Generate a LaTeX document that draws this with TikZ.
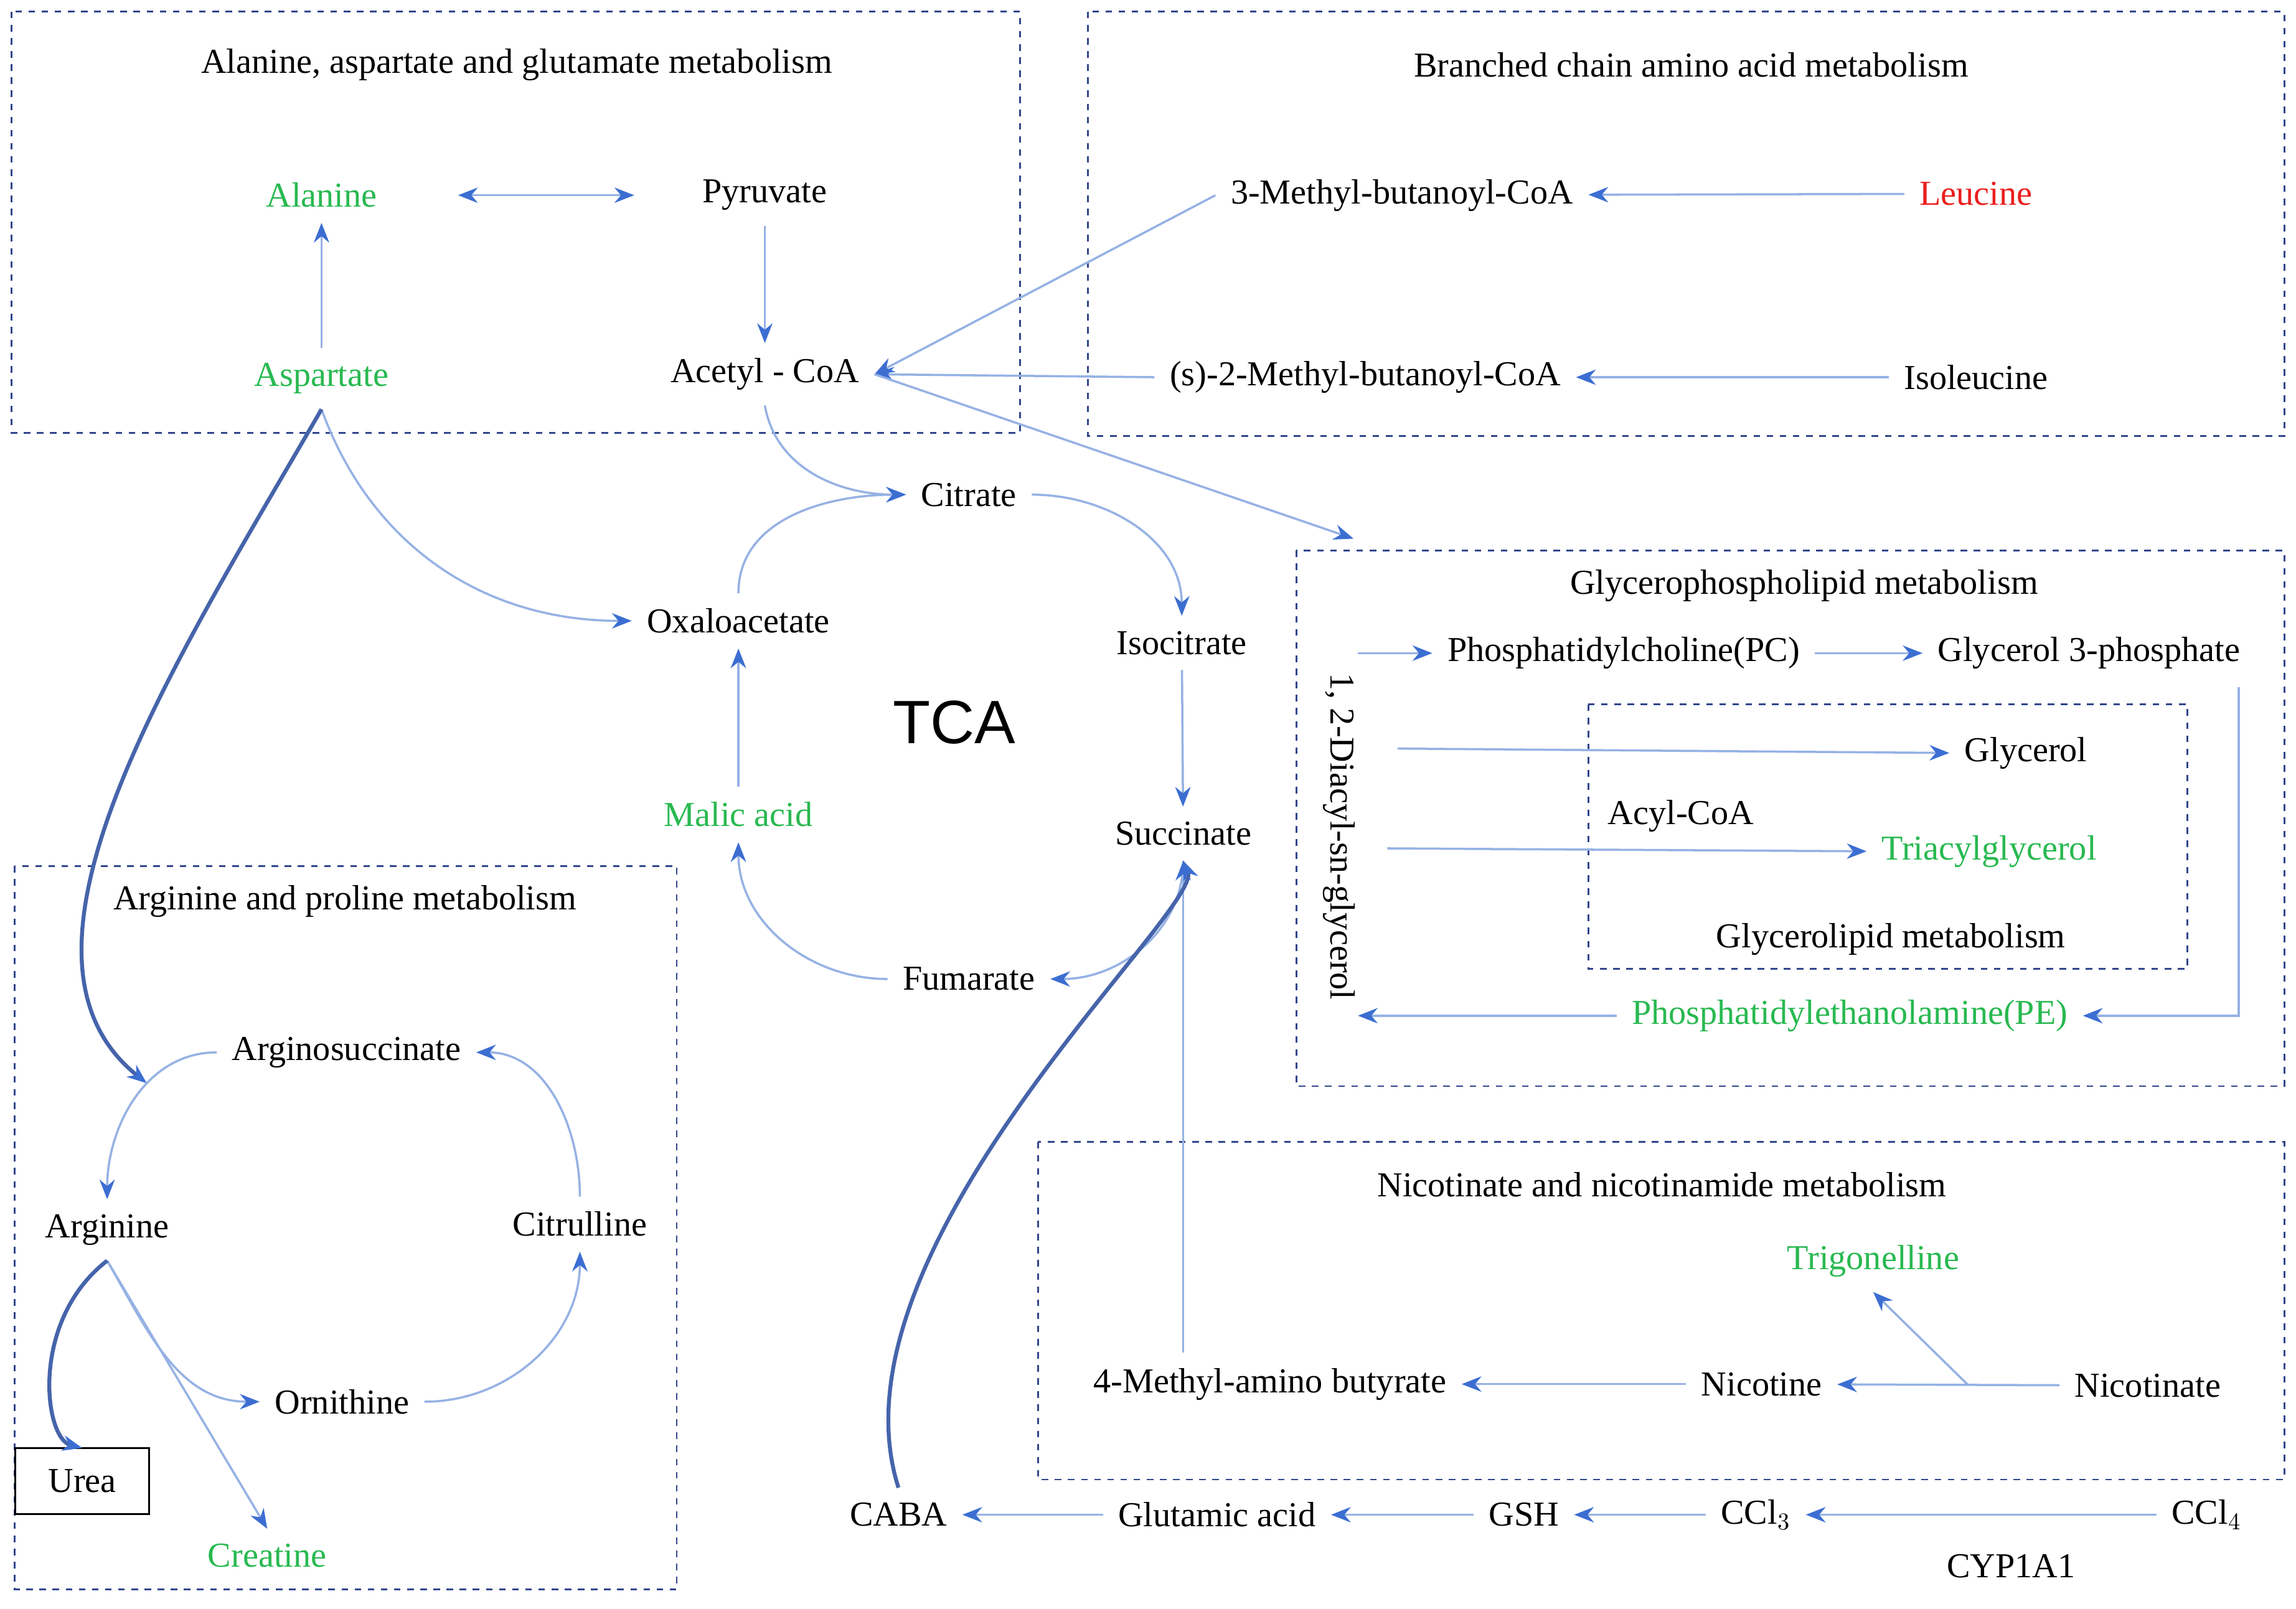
\documentclass[tikz,border=0pt]{standalone}
\usepackage{fontspec}
\setmainfont{Liberation Serif}
\newfontfamily\tcafont{Liberation Sans}
\usetikzlibrary{arrows.meta}
\definecolor{ln}{RGB}{150,178,228}
\definecolor{tip}{RGB}{60,110,210}
\definecolor{dk}{RGB}{70,100,170}
\definecolor{bx}{RGB}{50,70,140}
\definecolor{gr}{RGB}{40,185,80}
\definecolor{rd}{RGB}{235,30,30}
\begin{document}
\begin{tikzpicture}[x=0.02358cm,y=-0.02358cm,
  every node/.style={font=\fontsize{16}{18}\selectfont,inner sep=1pt,outer sep=6pt},
  box/.style={draw=bx,dashed,line width=0.8pt},
  ar/.style={draw=ln,line width=1pt,-{Stealth[length=9pt,width=7pt,color=tip]}},
  thk/.style={draw=dk,line width=1.8pt,-{Stealth[length=9pt,width=7pt,color=tip]}},
  g/.style={text=gr}]
\useasboundingbox[fill=white] (0,0) rectangle (1564,1096);
% boxes
\draw[box] (8,8) rectangle (695,295);
\draw[box] (741,8) rectangle (1556,297);
\draw[box] (883,375) rectangle (1556,740);
\draw[box] (1082,480) rectangle (1490,660);
\draw[box] (10,590) rectangle (461,1083);
\draw[box] (707,778) rectangle (1556,1008);
\node at (352,44) {Alanine, aspartate and glutamate metabolism};
\node at (1152,44) {Branched chain amino acid metabolism};
\node at (1229,399) {Glycerophospholipid metabolism};
\node at (1288,640) {Glycerolipid metabolism};
\node at (235,614) {Arginine and proline metabolism};
\node at (1132,807) {Nicotinate and nicotinamide metabolism};
% nodes
\node[g] (ala) at (219,133) {Alanine};
\node (pyr) at (521,133) {Pyruvate};
\node[g] (asp) at (219,258) {Aspartate};
\node (acc) at (521,255) {Acetyl - CoA};
\node (mb) at (955,133) {3-Methyl-butanoyl-CoA};
\node[text=rd] (leu) at (1346,132) {Leucine};
\node (smb) at (930,257) {(s)-2-Methyl-butanoyl-CoA};
\node (ile) at (1346,257) {Isoleucine};
\node (cit) at (660,337) {Citrate};
\node (oxa) at (503,423) {Oxaloacetate};
\node (iso) at (805,438) {Isocitrate};
\node[font=\tcafont\fontsize{28}{30}\selectfont] at (650,492) {TCA};
\node[g] (mal) at (503,555) {Malic acid};
\node (suc) at (806,568) {Succinate};
\node (fum) at (660,667) {Fumarate};
\node[rotate=-90] (dag) at (912,570) {1, 2-Diacyl-sn-glycerol};
\node (pc) at (1106,445) {Phosphatidylcholine(PC)};
\node (g3p) at (1423,445) {Glycerol 3-phosphate};
\node (gly) at (1380,513) {Glycerol};
\node (acy) at (1145,556) {Acyl-CoA};
\node[g] (tag) at (1355,580) {Triacylglycerol};
\node[g] (pe) at (1260,692) {Phosphatidylethanolamine(PE)};
\node (ags) at (236,717) {Arginosuccinate};
\node (arg) at (73,838) {Arginine};
\node (citr) at (395,834) {Citrulline};
\node (orn) at (233,955) {Ornithine};
\node[g] (cre) at (182,1060) {Creatine};
\node[draw=black,line width=1pt,minimum width=2.15cm,minimum height=1.06cm,outer sep=0pt] (urea) at (56,1009) {Urea};
\node[g] (tri) at (1276,859) {Trigonelline};
\node (mab) at (865,943) {4-Methyl-amino butyrate};
\node (nic) at (1200,943) {Nicotine};
\node (nca) at (1463,944) {Nicotinate};
\node (caba) at (612,1032) {CABA};
\node (glu) at (829,1032) {Glutamic acid};
\node (gsh) at (1038,1032) {GSH};
\node (ccl3) at (1196,1032) {CCl$_3$};
\node (ccl4) at (1503,1032) {CCl$_4$};
\node at (1370,1067) {CYP1A1};
% coordinates
\coordinate (c1) at (922,367);
% arrows
\draw[ar,{Stealth[length=9pt,width=7pt,color=tip]}-{Stealth[length=9pt,width=7pt,color=tip]}] (312,133) -- (432,133);
\draw[ar] (pyr) -- (acc);
\draw[ar] (asp) -- (ala);
\draw[ar] (mb.west) -- (acc.east);
\draw[ar] (leu) -- (mb);
\draw[ar] (ile) -- (smb);
\draw[ar] (smb.west) -- (acc.east);
\draw[ar] (acc.east) -- (c1);
\draw[ar] (acc.south) to[out=-80,in=180] (cit.west);
\draw[ar] (oxa.north) to[out=90,in=180] (cit.west);
\draw[ar] (cit.east) to[out=0,in=90] (iso.north);
\draw[ar] (iso) -- (suc);
\draw[ar] (suc.south) to[out=-90,in=0] (fum.east);
\draw[ar] (fum.west) to[out=180,in=-90] (mal.south);
\draw[ar] (mal) -- (oxa);
\draw[ar] (asp.south) to[out=-70,in=180] (oxa.west);
\draw[thk] (asp.south) .. controls (120,450) and (-10,650) .. (100,738);
\draw[ar] (ags.west) to[out=180,in=90] (arg.north);
\draw[ar] (arg.south) to[out=-60,in=180] (orn.west);
\draw[ar] (arg.south) -- (cre.north);
\draw[thk] (arg.south) .. controls (20,900) and (30,980) .. (urea.north);
\draw[ar] (orn.east) to[out=0,in=-90] (citr.south);
\draw[ar] (citr.north) to[out=90,in=0] (ags.east);
\draw[ar] (mab.north -| suc) -- (suc.south);
\draw[thk] (caba.north) .. controls (560,850) and (820,620) .. (suc.south);
\draw[ar] (nic) -- (mab);
\draw[ar] (nca) -- (nic);
\draw[ar] (1340,943) -- (tri.south);
\draw[ar] (ccl4) -- (ccl3);
\draw[ar] (ccl3) -- (gsh);
\draw[ar] (gsh) -- (glu);
\draw[ar] (glu) -- (caba);
\draw[ar] (925,445) -- (pc.west);
\draw[ar] (pc.east) -- (g3p.west);
\draw[ar] (1525,468) -- (1525,692) -- (pe.east);
\draw[ar] (pe.west) -- (925,692);
\draw[ar] (952,510) -- (gly.west);
\draw[ar] (945,578) -- (tag.west);
\end{tikzpicture}
\end{document}
